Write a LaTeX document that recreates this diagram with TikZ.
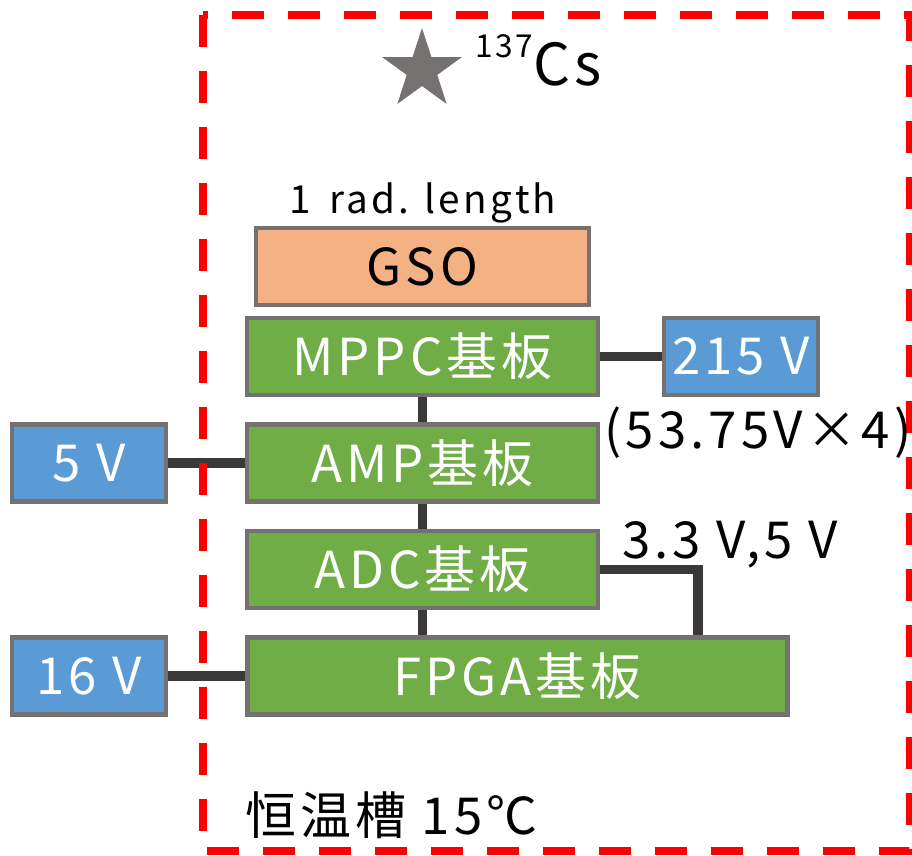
\documentclass[tikz,border=0pt]{standalone}
\usepackage{fontspec}
\setmainfont[LetterSpace=8]{Noto Sans CJK JP}
\usetikzlibrary{shapes.geometric, backgrounds}
\definecolor{boardGreen}{HTML}{70AD47}
\definecolor{supplyBlue}{HTML}{5B9BD5}
\definecolor{crystalOrange}{HTML}{F4B183}
\definecolor{frameGray}{HTML}{767171}
\definecolor{wireGray}{HTML}{3B3838}

\begin{document}
\begin{tikzpicture}[x=0.02cm, y=-0.02cm,
    unit/.style={draw=frameGray, line width=2.8pt, inner sep=0pt,
                 minimum height=1.54cm, font=\fontsize{29}{34}\selectfont},
    board/.style={unit, fill=boardGreen, text=white},
    supply/.style={unit, fill=supplyBlue, text=white, minimum width=3.08cm},
    wire/.style={wireGray, line width=5.4pt},
    label/.style={inner sep=0pt, font=\fontsize{29}{34}\selectfont}]
    \useasboundingbox (0,0) rectangle (912,855);

    % 1. CAMARA TERMOSTATICA (marco rojo)
    \draw[red, line width=4pt, dash pattern=on 0.64cm off 0.48cm]
        (203,15) rectangle (909,851);
    \node[label, anchor=west] (bathLabel) at (245,815) {恒温槽 15℃};

    % 2. FUENTE RADIACTIVA
    \node[star, star points=5, star point ratio=2.618, fill=frameGray,
          inner sep=0pt, minimum size=1.68cm] (source) at (422,70) {};
    \node[inner sep=0pt, anchor=base west, font=\fontsize{33}{37}\selectfont] (sourceLabel) at (475,86)
        {\raisebox{0.5em}{\fontsize{18}{18}\selectfont 137}Cs};

    % 3. CENTELLADOR Y PLACAS
    \node[unit, fill=crystalOrange, minimum width=6.66cm] (gso) at (422.5,266.5) {GSO};
    \node[inner sep=0pt, font=\fontsize{22}{26}\selectfont] (gsoLabel) at (423,203) {1\, rad. length};
    \node[board, minimum width=7.02cm] (mppc) at (422.5,356.5) {MPPC基板};
    \node[board, minimum width=7.02cm] (amp)  at (422.5,463)   {AMP基板};
    \node[board, minimum width=7.02cm] (adc)  at (422.5,569.5) {ADC基板};
    \node[board, minimum width=10.82cm] (fpga) at (517.5,676)  {FPGA基板};

    % 4. ALIMENTACIONES
    \node[supply] (hv)   at (741,356.5) {215 V};
    \node[supply] (lv5)  at (89,463)    {5 V};
    \node[supply] (lv16) at (89,676)    {16 V};
    \node[label] (hvLabel)  at (758,433) {(53.75V×4)};
    \node[label] (adcLabel) at (730,545) {3.3 V,5 V};

    % 5. CABLEADO
    \coordinate (adcTap) at (698,676);
    \begin{scope}[on background layer]
        \draw[wire] (mppc.south) -- (amp.north);
        \draw[wire] (amp.south) -- (adc.north);
        \draw[wire] (adc.south) -- (adc.south |- fpga.north);
        \draw[wire] (mppc.east) -- (hv.west);
        \draw[wire] (lv5.east) -- (amp.west);
        \draw[wire] (lv16.east) -- (fpga.west);
        \draw[wire] (adc.east) -| (adcTap |- fpga.north);
    \end{scope}

\end{tikzpicture}
\end{document}
